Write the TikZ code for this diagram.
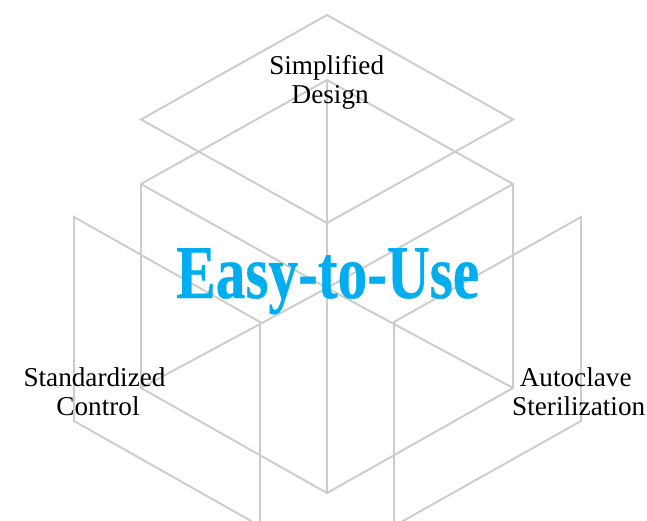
\documentclass[tikz,border=0pt]{standalone}
\usepackage{fontspec}
\setmainfont{Liberation Serif}
\newfontfamily\ttlfont[FakeBold=0.5]{Liberation Serif Bold}
\definecolor{wire}{HTML}{CCCCCC}
\definecolor{titleblue}{HTML}{00AEEF}
\tikzset{
  wireline/.style={draw=wire,line width=1.9bp,line join=miter},
  lbl/.style={text=black,align=center,inner sep=0pt,font=\fontsize{27.2bp}{29bp}\selectfont,anchor=base},
  ttl/.style={text=titleblue,inner sep=0pt,anchor=base}
}
\begin{document}
\begin{tikzpicture}[x=1bp,y=-1bp]
\clip (0,0) rectangle (647,521);
% top diamond
\coordinate (dt) at (327,15);
\coordinate (dr) at (513,119.5);
\coordinate (db) at (327,223);
\coordinate (dl) at (141,119.5);
% cube
\coordinate (ct) at (327,80);
\coordinate (cr) at (513,184);
\coordinate (cc) at (327,288);
\coordinate (cl) at (141,184);
\coordinate (bl) at (141,388);
\coordinate (bb) at (327,493);
\coordinate (br) at (513,388);
% left panel
\coordinate (la) at (74,217);
\coordinate (lb) at (260,322);
\coordinate (lc) at (260,526);
\coordinate (ld) at (74,421);
% right panel
\coordinate (ra) at (581,217);
\coordinate (rb) at (394,322);
\coordinate (rc) at (394,526);
\coordinate (rd) at (581,421);

\draw[wireline] (dt) -- (dr) -- (db) -- (dl) -- cycle;
\draw[wireline] (ct) -- (cr) -- (br) -- (bb) -- (bl) -- (cl) -- cycle;
\draw[wireline] (cl) -- (cc) -- (cr);
\draw[wireline] (bl) -- (cc) -- (br);
\draw[wireline] (ct) -- (bb);
\draw[wireline] (lc) -- (lb) -- (la) -- (ld) -- (lc);
\draw[wireline] (rc) -- (rb) -- (ra) -- (rd) -- (rc);

\node[ttl] (title) at (327.7,298) {\scalebox{0.78}[1]{\fontsize{76bp}{80bp}\selectfont\ttlfont Easy-to-Use}};
\node[lbl] (design) at (326.7,104) {Simplified\\\hspace*{7bp}Design};
\node[lbl] (control) at (94.5,415) {Standardized\\\hspace*{7bp}Control};
\node[lbl] (steril) at (575.7,415) {Autoclave\\\hspace*{6bp}Sterilization};
\end{tikzpicture}
\end{document}
